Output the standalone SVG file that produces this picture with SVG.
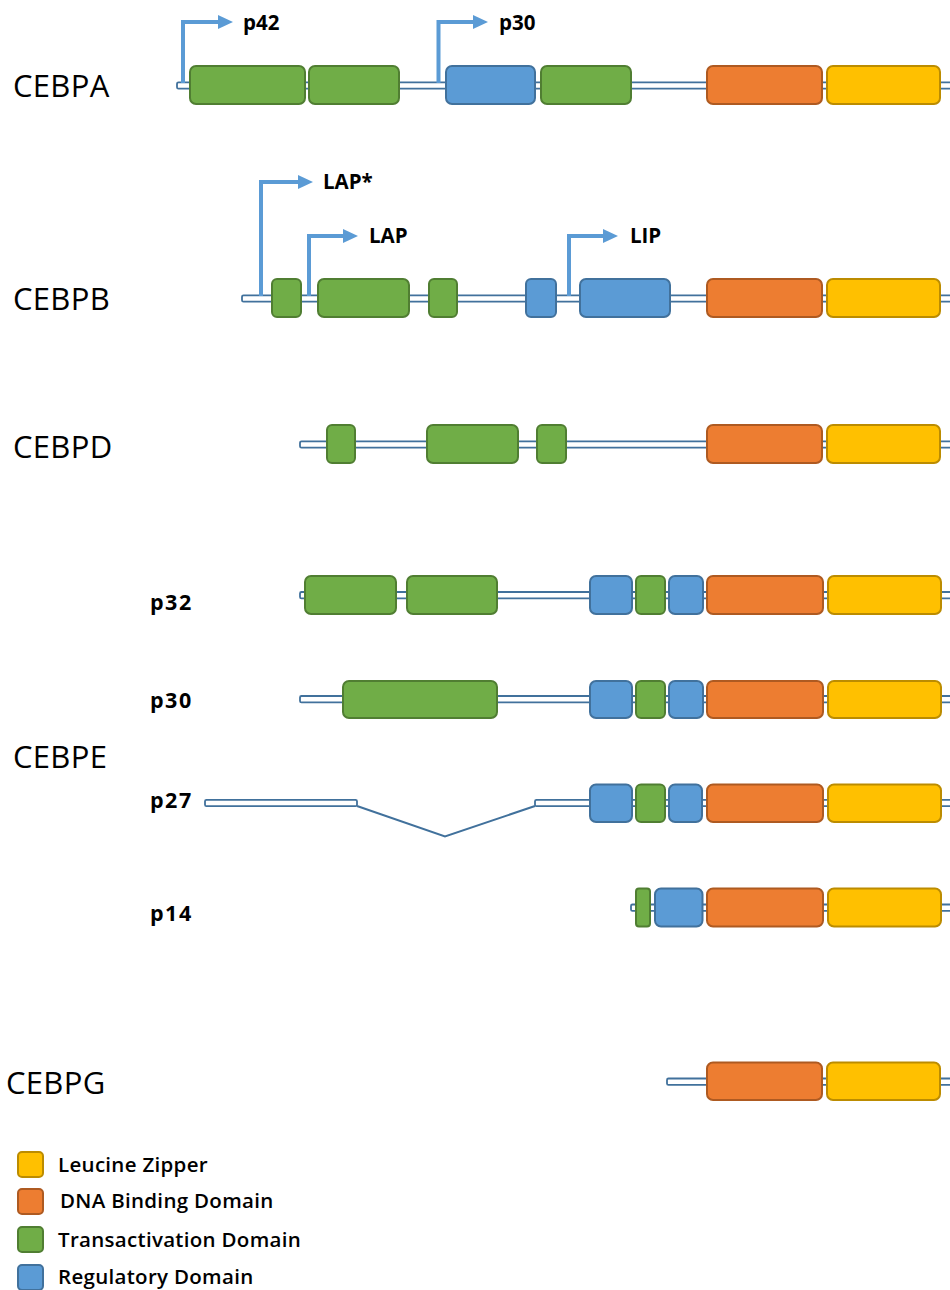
<svg xmlns="http://www.w3.org/2000/svg" width="950" height="1290" viewBox="0 0 950 1290">
<style>
.bb{fill:#ffffff;stroke:#41719C;stroke-width:1.8}
.tad{fill:#70AD47;stroke:#507E32;stroke-width:2}
.reg{fill:#5B9BD5;stroke:#41719C;stroke-width:2}
.dbd{fill:#ED7D31;stroke:#AE5A21;stroke-width:2}
.lz{fill:#FFC000;stroke:#BC8C00;stroke-width:2}
.gene{font-family:"Open Sans","Liberation Sans",sans-serif;font-size:31px;letter-spacing:0.3px;fill:#000}
.iso{font-family:"Open Sans","Liberation Sans",sans-serif;font-size:20.5px;font-weight:bold;fill:#000}
.isoe{font-family:"Open Sans","Liberation Sans",sans-serif;font-size:21.5px;font-weight:bold;letter-spacing:1.5px;fill:#000}
.leg{font-family:"Open Sans","Liberation Sans",sans-serif;font-size:20.5px;font-weight:600;letter-spacing:0.3px;fill:#000}
.tss{fill:none;stroke:#5B9BD5;stroke-width:4;marker-end:url(#ah)}
.intron{fill:none;stroke:#41719C;stroke-width:2}
</style>
<defs>
<marker id="ah" markerUnits="userSpaceOnUse" markerWidth="15" markerHeight="14" refX="0" refY="7" orient="auto">
<path d="M0,0 L15,7 L0,14 Z" fill="#5B9BD5"/>
</marker>
</defs>

<g id="cebpa">
<text class="gene" x="13" y="97">CEBPA</text>
<rect class="bb" x="177" y="82.3" width="790" height="6.4" rx="1.5"/>
<rect class="tad" x="190" y="66" width="115" height="38" rx="6"/>
<rect class="tad" x="309" y="66" width="90" height="38" rx="6"/>
<rect class="reg" x="446" y="66" width="89" height="38" rx="6"/>
<rect class="tad" x="541" y="66" width="90" height="38" rx="6"/>
<rect class="dbd" x="707" y="66" width="115" height="38" rx="6"/>
<rect class="lz" x="827" y="66" width="113" height="38" rx="6"/>
<text class="iso" x="243" y="30">p42</text>
<text class="iso" x="499" y="30">p30</text>
</g>

<g id="cebpb">
<text class="gene" x="13" y="310">CEBPB</text>
<rect class="bb" x="242" y="295.3" width="725" height="6.4" rx="1.5"/>
<rect class="tad" x="272" y="279" width="29" height="38" rx="5"/>
<rect class="tad" x="318" y="279" width="91" height="38" rx="6"/>
<rect class="tad" x="429" y="279" width="28" height="38" rx="5"/>
<rect class="reg" x="526" y="279" width="30" height="38" rx="5"/>
<rect class="reg" x="580" y="279" width="90" height="38" rx="6"/>
<rect class="dbd" x="707" y="279" width="115" height="38" rx="6"/>
<rect class="lz" x="827" y="279" width="113" height="38" rx="6"/>
<text class="iso" x="323" y="189">LAP*</text>
<text class="iso" x="369" y="243">LAP</text>
<text class="iso" x="630" y="243">LIP</text>
</g>

<g id="cebpd">
<text class="gene" x="13" y="458">CEBPD</text>
<rect class="bb" x="300" y="441.3" width="667" height="6.4" rx="1.5"/>
<rect class="tad" x="327" y="425" width="28" height="38" rx="5"/>
<rect class="tad" x="427" y="425" width="91" height="38" rx="6"/>
<rect class="tad" x="537" y="425" width="29" height="38" rx="5"/>
<rect class="dbd" x="707" y="425" width="115" height="38" rx="6"/>
<rect class="lz" x="827" y="425" width="113" height="38" rx="6"/>
</g>

<g id="cebpe">
<text class="gene" x="13" y="768">CEBPE</text>
</g>

<g id="cebpe-p32">
<text class="isoe" x="150" y="610">p32</text>
<rect class="bb" x="300" y="592" width="667" height="6.4" rx="1.5"/>
<rect class="tad" x="305" y="576" width="91" height="38" rx="6"/>
<rect class="tad" x="407" y="576" width="90" height="38" rx="6"/>
<rect class="reg" x="590" y="576" width="42" height="38" rx="6"/>
<rect class="tad" x="636" y="576" width="29" height="38" rx="5"/>
<rect class="reg" x="669" y="576" width="34" height="38" rx="6"/>
<rect class="dbd" x="707" y="576" width="116" height="38" rx="6"/>
<rect class="lz" x="828" y="576" width="113" height="38" rx="6"/>
</g>

<g id="cebpe-p30">
<text class="isoe" x="150" y="708">p30</text>
<rect class="bb" x="300" y="696" width="667" height="6.4" rx="1.5"/>
<rect class="tad" x="343" y="681" width="154" height="37" rx="6"/>
<rect class="reg" x="590" y="681" width="42" height="37" rx="6"/>
<rect class="tad" x="636" y="681" width="29" height="37" rx="5"/>
<rect class="reg" x="669" y="681" width="34" height="37" rx="6"/>
<rect class="dbd" x="707" y="681" width="116" height="37" rx="6"/>
<rect class="lz" x="828" y="681" width="113" height="37" rx="6"/>
</g>

<g id="cebpe-p27">
<text class="isoe" x="150" y="808">p27</text>
<rect class="bb" x="205" y="799.8" width="152" height="6.4" rx="1.5"/>
<rect class="bb" x="535" y="799.8" width="432" height="6.4" rx="1.5"/>
<rect class="reg" x="590" y="784.5" width="42" height="37.5" rx="6"/>
<rect class="tad" x="636" y="784.5" width="29" height="37.5" rx="5"/>
<rect class="reg" x="669" y="784.5" width="33" height="37.5" rx="6"/>
<rect class="dbd" x="707" y="784.5" width="116" height="37.5" rx="6"/>
<rect class="lz" x="828" y="784.5" width="113" height="37.5" rx="6"/>
</g>

<g id="cebpe-p14">
<text class="isoe" x="150" y="921">p14</text>
<rect class="bb" x="631" y="904.5" width="336" height="6.4" rx="1.5"/>
<rect class="tad" x="636" y="888.5" width="14" height="38" rx="3"/>
<rect class="reg" x="655" y="888.5" width="47.5" height="38" rx="6"/>
<rect class="dbd" x="707" y="888.5" width="116" height="38" rx="6"/>
<rect class="lz" x="828" y="888.5" width="113" height="38" rx="6"/>
</g>

<g id="cebpg">
<text class="gene" x="6" y="1094">CEBPG</text>
<rect class="bb" x="667" y="1078.5" width="300" height="6.4" rx="1.5"/>
<rect class="dbd" x="707" y="1062.5" width="115" height="37.5" rx="6"/>
<rect class="lz" x="827" y="1062.5" width="113" height="37.5" rx="6"/>
</g>

<g id="connectors">
<path class="tss" d="M183,83 V22 H218"/>
<path class="tss" d="M438.5,83 V22 H473"/>
<path class="tss" d="M261,296 V182 H298"/>
<path class="tss" d="M309,296 V236 H343"/>
<path class="tss" d="M569,296 V236 H603"/>
<polyline class="intron" points="357,806 445,836.5 535,806"/>
</g>

<g id="legend">
<rect class="lz" x="18" y="1152" width="25" height="25" rx="4"/>
<text class="leg" x="58" y="1172">Leucine Zipper</text>
<rect class="dbd" x="18" y="1189" width="25" height="25" rx="4"/>
<text class="leg" x="60" y="1208">DNA Binding Domain</text>
<rect class="tad" x="18" y="1227" width="25" height="25" rx="4"/>
<text class="leg" x="58" y="1247">Transactivation Domain</text>
<rect class="reg" x="18" y="1265" width="25" height="25" rx="4"/>
<text class="leg" x="58" y="1284">Regulatory Domain</text>
</g>
</svg>
